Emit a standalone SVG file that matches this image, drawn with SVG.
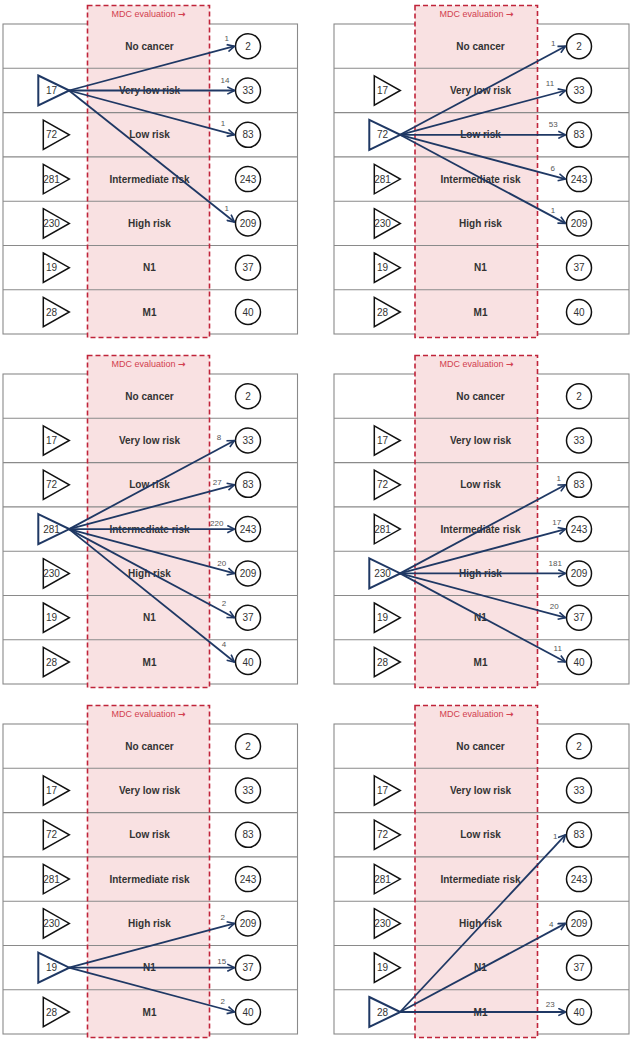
<svg xmlns="http://www.w3.org/2000/svg" width="632" height="1050" viewBox="0 0 632 1050">
<style>
.tbl{fill:#fff;stroke:#8a8a8a;stroke-width:1.1}
.rl{stroke:#8a8a8a;stroke-width:1.1}
.pink{fill:#f9e1e2;stroke:none}
.dash{fill:none;stroke:#c0243a;stroke-width:1.6;stroke-dasharray:5,3}
.mdc{font-family:"Liberation Sans",Arial,sans-serif;font-size:9px;fill:#d2404f;text-anchor:middle}
.ar{font-family:"DejaVu Sans",sans-serif;font-weight:bold;font-size:9px}
.lab{font-family:"Liberation Sans",Arial,sans-serif;font-size:10px;font-weight:bold;fill:#333;text-anchor:middle}
.num{font-family:"Liberation Sans",Arial,sans-serif;font-size:10px;fill:#333;text-anchor:middle}
.tri{fill:#fff;stroke:#111;stroke-width:1.5;stroke-linejoin:miter}
.trib{fill:#fff;stroke:#1f3864;stroke-width:2;stroke-linejoin:miter}
.cir{fill:#fff;stroke:#111;stroke-width:1.5}
.arr{fill:none;stroke:#1f3864;stroke-width:1.8;marker-end:url(#ah)}
.al{font-family:"Liberation Sans",Arial,sans-serif;font-size:8px;fill:#555;text-anchor:middle}
</style>
<defs>
<marker id="ah" viewBox="0 0 10 10" refX="9" refY="5" markerWidth="9" markerHeight="9" markerUnits="userSpaceOnUse" orient="auto">
<path d="M1,1 L9,5 L1,9" fill="none" stroke="#1f3864" stroke-width="1.8"/>
</marker>
<g id="tableL">
<rect class="tbl" x="3" y="24" width="294.5" height="310"/>
<rect class="pink" x="87.5" y="5.5" width="122" height="332"/>
<line class="rl" x1="3" x2="297.5" y1="68.3" y2="68.3"/>
<line class="rl" x1="3" x2="297.5" y1="112.6" y2="112.6"/>
<line class="rl" x1="3" x2="297.5" y1="156.9" y2="156.9"/>
<line class="rl" x1="3" x2="297.5" y1="201.2" y2="201.2"/>
<line class="rl" x1="3" x2="297.5" y1="245.5" y2="245.5"/>
<line class="rl" x1="3" x2="297.5" y1="289.8" y2="289.8"/>
<rect class="dash" x="87.5" y="5.5" width="122" height="332"/>
<text class="mdc" x="148.5" y="17">MDC evaluation <tspan class="ar">→</tspan></text>
</g>
<g id="tableR">
<rect class="tbl" x="3" y="24" width="295" height="310"/>
<rect class="pink" x="84" y="5.5" width="122.5" height="332"/>
<line class="rl" x1="3" x2="298" y1="68.3" y2="68.3"/>
<line class="rl" x1="3" x2="298" y1="112.6" y2="112.6"/>
<line class="rl" x1="3" x2="298" y1="156.9" y2="156.9"/>
<line class="rl" x1="3" x2="298" y1="201.2" y2="201.2"/>
<line class="rl" x1="3" x2="298" y1="245.5" y2="245.5"/>
<line class="rl" x1="3" x2="298" y1="289.8" y2="289.8"/>
<rect class="dash" x="84" y="5.5" width="122.5" height="332"/>
<text class="mdc" x="145.5" y="17">MDC evaluation <tspan class="ar">→</tspan></text>
</g>
</defs>

<!-- Panel 1 -->
<g id="panel1" transform="translate(0,0)">
<use href="#tableL"/>
<g id="p1-rows">
<text class="lab" x="149.5" y="49.7">No cancer</text>
<text class="lab" x="149.5" y="94">Very low risk</text>
<text class="lab" x="149.5" y="138.3">Low risk</text>
<text class="lab" x="149.5" y="182.6">Intermediate risk</text>
<text class="lab" x="149.5" y="226.9">High risk</text>
<text class="lab" x="149.5" y="271.2">N1</text>
<text class="lab" x="149.5" y="315.5">M1</text>
</g>
<g id="p1-src17"><path class="trib" d="M38.3,75.5 L69.3,90.5 L38.3,105.5 Z"/><text class="num" x="51.5" y="94">17</text></g>
<g id="p1-src72"><path class="tri" d="M43.3,120.1 L69.3,134.8 L43.3,149.5 Z"/><text class="num" x="51.5" y="138.3">72</text></g>
<g id="p1-src281"><path class="tri" d="M43.3,164.4 L69.3,179.1 L43.3,193.8 Z"/><text class="num" x="51.5" y="182.6">281</text></g>
<g id="p1-src230"><path class="tri" d="M43.3,208.7 L69.3,223.4 L43.3,238.1 Z"/><text class="num" x="51.5" y="226.9">230</text></g>
<g id="p1-src19"><path class="tri" d="M43.3,253 L69.3,267.7 L43.3,282.4 Z"/><text class="num" x="51.5" y="271.2">19</text></g>
<g id="p1-src28"><path class="tri" d="M43.3,297.3 L69.3,312 L43.3,326.7 Z"/><text class="num" x="51.5" y="315.5">28</text></g>
<g id="p1-t2"><circle class="cir" cx="248" cy="46.2" r="12.5"/><text class="num" x="248" y="49.7">2</text></g>
<g id="p1-t33"><circle class="cir" cx="248" cy="90.5" r="12.5"/><text class="num" x="248" y="94">33</text></g>
<g id="p1-t83"><circle class="cir" cx="248" cy="134.8" r="12.5"/><text class="num" x="248" y="138.3">83</text></g>
<g id="p1-t243"><circle class="cir" cx="248" cy="179.1" r="12.5"/><text class="num" x="248" y="182.6">243</text></g>
<g id="p1-t209"><circle class="cir" cx="248" cy="223.4" r="12.5"/><text class="num" x="248" y="226.9">209</text></g>
<g id="p1-t37"><circle class="cir" cx="248" cy="267.7" r="12.5"/><text class="num" x="248" y="271.2">37</text></g>
<g id="p1-t40"><circle class="cir" cx="248" cy="312" r="12.5"/><text class="num" x="248" y="315.5">40</text></g>
</g>

<!-- Panel 2 -->
<g id="panel2" transform="translate(331,0)">
<use href="#tableR"/>
<g id="p2-rows">
<text class="lab" x="149.5" y="49.7">No cancer</text>
<text class="lab" x="149.5" y="94">Very low risk</text>
<text class="lab" x="149.5" y="138.3">Low risk</text>
<text class="lab" x="149.5" y="182.6">Intermediate risk</text>
<text class="lab" x="149.5" y="226.9">High risk</text>
<text class="lab" x="149.5" y="271.2">N1</text>
<text class="lab" x="149.5" y="315.5">M1</text>
</g>
<g id="p2-src17"><path class="tri" d="M43.3,75.8 L69.3,90.5 L43.3,105.2 Z"/><text class="num" x="51.5" y="94">17</text></g>
<g id="p2-src72"><path class="trib" d="M38.3,119.8 L69.3,134.8 L38.3,149.8 Z"/><text class="num" x="51.5" y="138.3">72</text></g>
<g id="p2-src281"><path class="tri" d="M43.3,164.4 L69.3,179.1 L43.3,193.8 Z"/><text class="num" x="51.5" y="182.6">281</text></g>
<g id="p2-src230"><path class="tri" d="M43.3,208.7 L69.3,223.4 L43.3,238.1 Z"/><text class="num" x="51.5" y="226.9">230</text></g>
<g id="p2-src19"><path class="tri" d="M43.3,253 L69.3,267.7 L43.3,282.4 Z"/><text class="num" x="51.5" y="271.2">19</text></g>
<g id="p2-src28"><path class="tri" d="M43.3,297.3 L69.3,312 L43.3,326.7 Z"/><text class="num" x="51.5" y="315.5">28</text></g>
<g id="p2-t2"><circle class="cir" cx="248" cy="46.2" r="12.5"/><text class="num" x="248" y="49.7">2</text></g>
<g id="p2-t33"><circle class="cir" cx="248" cy="90.5" r="12.5"/><text class="num" x="248" y="94">33</text></g>
<g id="p2-t83"><circle class="cir" cx="248" cy="134.8" r="12.5"/><text class="num" x="248" y="138.3">83</text></g>
<g id="p2-t243"><circle class="cir" cx="248" cy="179.1" r="12.5"/><text class="num" x="248" y="182.6">243</text></g>
<g id="p2-t209"><circle class="cir" cx="248" cy="223.4" r="12.5"/><text class="num" x="248" y="226.9">209</text></g>
<g id="p2-t37"><circle class="cir" cx="248" cy="267.7" r="12.5"/><text class="num" x="248" y="271.2">37</text></g>
<g id="p2-t40"><circle class="cir" cx="248" cy="312" r="12.5"/><text class="num" x="248" y="315.5">40</text></g>
</g>

<!-- Panel 3 -->
<g id="panel3" transform="translate(0,350)">
<use href="#tableL"/>
<g id="p3-rows">
<text class="lab" x="149.5" y="49.7">No cancer</text>
<text class="lab" x="149.5" y="94">Very low risk</text>
<text class="lab" x="149.5" y="138.3">Low risk</text>
<text class="lab" x="149.5" y="182.6">Intermediate risk</text>
<text class="lab" x="149.5" y="226.9">High risk</text>
<text class="lab" x="149.5" y="271.2">N1</text>
<text class="lab" x="149.5" y="315.5">M1</text>
</g>
<g id="p3-src17"><path class="tri" d="M43.3,75.8 L69.3,90.5 L43.3,105.2 Z"/><text class="num" x="51.5" y="94">17</text></g>
<g id="p3-src72"><path class="tri" d="M43.3,120.1 L69.3,134.8 L43.3,149.5 Z"/><text class="num" x="51.5" y="138.3">72</text></g>
<g id="p3-src281"><path class="trib" d="M38.3,164.1 L69.3,179.1 L38.3,194.1 Z"/><text class="num" x="51.5" y="182.6">281</text></g>
<g id="p3-src230"><path class="tri" d="M43.3,208.7 L69.3,223.4 L43.3,238.1 Z"/><text class="num" x="51.5" y="226.9">230</text></g>
<g id="p3-src19"><path class="tri" d="M43.3,253 L69.3,267.7 L43.3,282.4 Z"/><text class="num" x="51.5" y="271.2">19</text></g>
<g id="p3-src28"><path class="tri" d="M43.3,297.3 L69.3,312 L43.3,326.7 Z"/><text class="num" x="51.5" y="315.5">28</text></g>
<g id="p3-t2"><circle class="cir" cx="248" cy="46.2" r="12.5"/><text class="num" x="248" y="49.7">2</text></g>
<g id="p3-t33"><circle class="cir" cx="248" cy="90.5" r="12.5"/><text class="num" x="248" y="94">33</text></g>
<g id="p3-t83"><circle class="cir" cx="248" cy="134.8" r="12.5"/><text class="num" x="248" y="138.3">83</text></g>
<g id="p3-t243"><circle class="cir" cx="248" cy="179.1" r="12.5"/><text class="num" x="248" y="182.6">243</text></g>
<g id="p3-t209"><circle class="cir" cx="248" cy="223.4" r="12.5"/><text class="num" x="248" y="226.9">209</text></g>
<g id="p3-t37"><circle class="cir" cx="248" cy="267.7" r="12.5"/><text class="num" x="248" y="271.2">37</text></g>
<g id="p3-t40"><circle class="cir" cx="248" cy="312" r="12.5"/><text class="num" x="248" y="315.5">40</text></g>
</g>

<!-- Panel 4 -->
<g id="panel4" transform="translate(331,350)">
<use href="#tableR"/>
<g id="p4-rows">
<text class="lab" x="149.5" y="49.7">No cancer</text>
<text class="lab" x="149.5" y="94">Very low risk</text>
<text class="lab" x="149.5" y="138.3">Low risk</text>
<text class="lab" x="149.5" y="182.6">Intermediate risk</text>
<text class="lab" x="149.5" y="226.9">High risk</text>
<text class="lab" x="149.5" y="271.2">N1</text>
<text class="lab" x="149.5" y="315.5">M1</text>
</g>
<g id="p4-src17"><path class="tri" d="M43.3,75.8 L69.3,90.5 L43.3,105.2 Z"/><text class="num" x="51.5" y="94">17</text></g>
<g id="p4-src72"><path class="tri" d="M43.3,120.1 L69.3,134.8 L43.3,149.5 Z"/><text class="num" x="51.5" y="138.3">72</text></g>
<g id="p4-src281"><path class="tri" d="M43.3,164.4 L69.3,179.1 L43.3,193.8 Z"/><text class="num" x="51.5" y="182.6">281</text></g>
<g id="p4-src230"><path class="trib" d="M38.3,208.4 L69.3,223.4 L38.3,238.4 Z"/><text class="num" x="51.5" y="226.9">230</text></g>
<g id="p4-src19"><path class="tri" d="M43.3,253 L69.3,267.7 L43.3,282.4 Z"/><text class="num" x="51.5" y="271.2">19</text></g>
<g id="p4-src28"><path class="tri" d="M43.3,297.3 L69.3,312 L43.3,326.7 Z"/><text class="num" x="51.5" y="315.5">28</text></g>
<g id="p4-t2"><circle class="cir" cx="248" cy="46.2" r="12.5"/><text class="num" x="248" y="49.7">2</text></g>
<g id="p4-t33"><circle class="cir" cx="248" cy="90.5" r="12.5"/><text class="num" x="248" y="94">33</text></g>
<g id="p4-t83"><circle class="cir" cx="248" cy="134.8" r="12.5"/><text class="num" x="248" y="138.3">83</text></g>
<g id="p4-t243"><circle class="cir" cx="248" cy="179.1" r="12.5"/><text class="num" x="248" y="182.6">243</text></g>
<g id="p4-t209"><circle class="cir" cx="248" cy="223.4" r="12.5"/><text class="num" x="248" y="226.9">209</text></g>
<g id="p4-t37"><circle class="cir" cx="248" cy="267.7" r="12.5"/><text class="num" x="248" y="271.2">37</text></g>
<g id="p4-t40"><circle class="cir" cx="248" cy="312" r="12.5"/><text class="num" x="248" y="315.5">40</text></g>
</g>

<!-- Panel 5 -->
<g id="panel5" transform="translate(0,700)">
<use href="#tableL"/>
<g id="p5-rows">
<text class="lab" x="149.5" y="49.7">No cancer</text>
<text class="lab" x="149.5" y="94">Very low risk</text>
<text class="lab" x="149.5" y="138.3">Low risk</text>
<text class="lab" x="149.5" y="182.6">Intermediate risk</text>
<text class="lab" x="149.5" y="226.9">High risk</text>
<text class="lab" x="149.5" y="271.2">N1</text>
<text class="lab" x="149.5" y="315.5">M1</text>
</g>
<g id="p5-src17"><path class="tri" d="M43.3,75.8 L69.3,90.5 L43.3,105.2 Z"/><text class="num" x="51.5" y="94">17</text></g>
<g id="p5-src72"><path class="tri" d="M43.3,120.1 L69.3,134.8 L43.3,149.5 Z"/><text class="num" x="51.5" y="138.3">72</text></g>
<g id="p5-src281"><path class="tri" d="M43.3,164.4 L69.3,179.1 L43.3,193.8 Z"/><text class="num" x="51.5" y="182.6">281</text></g>
<g id="p5-src230"><path class="tri" d="M43.3,208.7 L69.3,223.4 L43.3,238.1 Z"/><text class="num" x="51.5" y="226.9">230</text></g>
<g id="p5-src19"><path class="trib" d="M38.3,252.7 L69.3,267.7 L38.3,282.7 Z"/><text class="num" x="51.5" y="271.2">19</text></g>
<g id="p5-src28"><path class="tri" d="M43.3,297.3 L69.3,312 L43.3,326.7 Z"/><text class="num" x="51.5" y="315.5">28</text></g>
<g id="p5-t2"><circle class="cir" cx="248" cy="46.2" r="12.5"/><text class="num" x="248" y="49.7">2</text></g>
<g id="p5-t33"><circle class="cir" cx="248" cy="90.5" r="12.5"/><text class="num" x="248" y="94">33</text></g>
<g id="p5-t83"><circle class="cir" cx="248" cy="134.8" r="12.5"/><text class="num" x="248" y="138.3">83</text></g>
<g id="p5-t243"><circle class="cir" cx="248" cy="179.1" r="12.5"/><text class="num" x="248" y="182.6">243</text></g>
<g id="p5-t209"><circle class="cir" cx="248" cy="223.4" r="12.5"/><text class="num" x="248" y="226.9">209</text></g>
<g id="p5-t37"><circle class="cir" cx="248" cy="267.7" r="12.5"/><text class="num" x="248" y="271.2">37</text></g>
<g id="p5-t40"><circle class="cir" cx="248" cy="312" r="12.5"/><text class="num" x="248" y="315.5">40</text></g>
</g>

<!-- Panel 6 -->
<g id="panel6" transform="translate(331,700)">
<use href="#tableR"/>
<g id="p6-rows">
<text class="lab" x="149.5" y="49.7">No cancer</text>
<text class="lab" x="149.5" y="94">Very low risk</text>
<text class="lab" x="149.5" y="138.3">Low risk</text>
<text class="lab" x="149.5" y="182.6">Intermediate risk</text>
<text class="lab" x="149.5" y="226.9">High risk</text>
<text class="lab" x="149.5" y="271.2">N1</text>
<text class="lab" x="149.5" y="315.5">M1</text>
</g>
<g id="p6-src17"><path class="tri" d="M43.3,75.8 L69.3,90.5 L43.3,105.2 Z"/><text class="num" x="51.5" y="94">17</text></g>
<g id="p6-src72"><path class="tri" d="M43.3,120.1 L69.3,134.8 L43.3,149.5 Z"/><text class="num" x="51.5" y="138.3">72</text></g>
<g id="p6-src281"><path class="tri" d="M43.3,164.4 L69.3,179.1 L43.3,193.8 Z"/><text class="num" x="51.5" y="182.6">281</text></g>
<g id="p6-src230"><path class="tri" d="M43.3,208.7 L69.3,223.4 L43.3,238.1 Z"/><text class="num" x="51.5" y="226.9">230</text></g>
<g id="p6-src19"><path class="tri" d="M43.3,253 L69.3,267.7 L43.3,282.4 Z"/><text class="num" x="51.5" y="271.2">19</text></g>
<g id="p6-src28"><path class="trib" d="M38.3,297 L69.3,312 L38.3,327 Z"/><text class="num" x="51.5" y="315.5">28</text></g>
<g id="p6-t2"><circle class="cir" cx="248" cy="46.2" r="12.5"/><text class="num" x="248" y="49.7">2</text></g>
<g id="p6-t33"><circle class="cir" cx="248" cy="90.5" r="12.5"/><text class="num" x="248" y="94">33</text></g>
<g id="p6-t83"><circle class="cir" cx="248" cy="134.8" r="12.5"/><text class="num" x="248" y="138.3">83</text></g>
<g id="p6-t243"><circle class="cir" cx="248" cy="179.1" r="12.5"/><text class="num" x="248" y="182.6">243</text></g>
<g id="p6-t209"><circle class="cir" cx="248" cy="223.4" r="12.5"/><text class="num" x="248" y="226.9">209</text></g>
<g id="p6-t37"><circle class="cir" cx="248" cy="267.7" r="12.5"/><text class="num" x="248" y="271.2">37</text></g>
<g id="p6-t40"><circle class="cir" cx="248" cy="312" r="12.5"/><text class="num" x="248" y="315.5">40</text></g>
</g>

<!-- Connectors -->
<g id="connectors">
<g id="c-p1" transform="translate(0,0)">
<line class="arr" x1="69" y1="90.5" x2="234.5" y2="46.2"/>
<line class="arr" x1="69" y1="90.5" x2="234.5" y2="90.5"/>
<line class="arr" x1="69" y1="90.5" x2="234.5" y2="134.8"/>
<line class="arr" x1="69" y1="90.5" x2="234.5" y2="222"/>
<text class="al" x="226.7" y="41.3">1</text>
<text class="al" x="225" y="83">14</text>
<text class="al" x="223" y="126.3">1</text>
<text class="al" x="226.7" y="211.3">1</text>
</g>
<g id="c-p2" transform="translate(331,0)">
<line class="arr" x1="69" y1="134.8" x2="234.5" y2="46.2"/>
<line class="arr" x1="69" y1="134.8" x2="234.5" y2="90.5"/>
<line class="arr" x1="69" y1="134.8" x2="234.5" y2="134.8"/>
<line class="arr" x1="69" y1="134.8" x2="234.5" y2="179.1"/>
<line class="arr" x1="69" y1="134.8" x2="234.5" y2="223.4"/>
<text class="al" x="222.3" y="45.7">1</text>
<text class="al" x="219" y="86">11</text>
<text class="al" x="222.3" y="127">53</text>
<text class="al" x="221.7" y="171.3">6</text>
<text class="al" x="222" y="213">1</text>
</g>
<g id="c-p3" transform="translate(0,350)">
<line class="arr" x1="69" y1="179.1" x2="234.5" y2="90.5"/>
<line class="arr" x1="69" y1="179.1" x2="234.5" y2="134.8"/>
<line class="arr" x1="69" y1="179.1" x2="234.5" y2="179.1"/>
<line class="arr" x1="69" y1="179.1" x2="234.5" y2="223.4"/>
<line class="arr" x1="69" y1="179.1" x2="234.5" y2="267.7"/>
<line class="arr" x1="69" y1="179.1" x2="234.5" y2="312"/>
<text class="al" x="219" y="90.3">8</text>
<text class="al" x="217.3" y="134.7">27</text>
<text class="al" x="216.7" y="175.7">220</text>
<text class="al" x="221.7" y="216.3">20</text>
<text class="al" x="224" y="256.3">2</text>
<text class="al" x="224" y="297">4</text>
</g>
<g id="c-p4" transform="translate(331,350)">
<line class="arr" x1="69" y1="223.4" x2="234.5" y2="134.8"/>
<line class="arr" x1="69" y1="223.4" x2="234.5" y2="179.1"/>
<line class="arr" x1="69" y1="223.4" x2="234.5" y2="223.4"/>
<line class="arr" x1="69" y1="223.4" x2="234.5" y2="267.7"/>
<line class="arr" x1="69" y1="223.4" x2="234.5" y2="312"/>
<text class="al" x="227.7" y="131.3">1</text>
<text class="al" x="225.7" y="174.7">17</text>
<text class="al" x="224.3" y="216.3">181</text>
<text class="al" x="223.3" y="259">20</text>
<text class="al" x="226.7" y="301.3">11</text>
</g>
<g id="c-p5" transform="translate(0,700)">
<line class="arr" x1="69" y1="267.7" x2="234.5" y2="223.4"/>
<line class="arr" x1="69" y1="267.7" x2="234.5" y2="267.7"/>
<line class="arr" x1="69" y1="267.7" x2="234.5" y2="312"/>
<text class="al" x="222.7" y="219.7">2</text>
<text class="al" x="221.7" y="263.7">15</text>
<text class="al" x="222.7" y="304">2</text>
</g>
<g id="c-p6" transform="translate(331,700)">
<line class="arr" x1="69" y1="312" x2="234.5" y2="134.8"/>
<line class="arr" x1="69" y1="312" x2="234.5" y2="223.4"/>
<line class="arr" x1="69" y1="312" x2="234.5" y2="312"/>
<text class="al" x="224.3" y="139">1</text>
<text class="al" x="220.3" y="227">4</text>
<text class="al" x="219.3" y="307">23</text>
</g>
</g>
</svg>
